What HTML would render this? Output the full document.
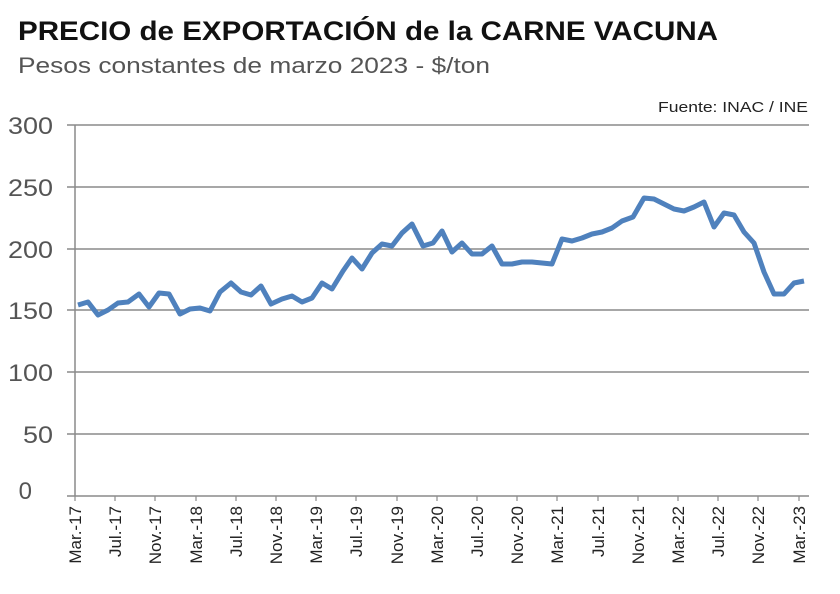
<!DOCTYPE html>
<html><head><meta charset="utf-8"><style>
body{margin:0;background:#fff;width:840px;height:589px;overflow:hidden;font-family:"Liberation Sans",sans-serif}
</style></head><body>
<svg width="840" height="589" xmlns="http://www.w3.org/2000/svg">
<text x="18" y="40" font-size="27" font-weight="bold" fill="#111" textLength="700" lengthAdjust="spacingAndGlyphs">PRECIO de EXPORTACIÓN de la CARNE VACUNA</text>
<text x="18" y="73" font-size="22" fill="#555" textLength="472" lengthAdjust="spacingAndGlyphs">Pesos constantes de marzo 2023 - $/ton</text>
<text x="808" y="112" font-size="15" fill="#222" text-anchor="end" textLength="150" lengthAdjust="spacingAndGlyphs">Fuente: INAC / INE</text>
<g stroke="#8a8a8a" stroke-width="1.5">
<line x1="67" y1="125" x2="809" y2="125"/>
<line x1="67" y1="187" x2="809" y2="187"/>
<line x1="67" y1="249" x2="809" y2="249"/>
<line x1="67" y1="310" x2="809" y2="310"/>
<line x1="67" y1="372" x2="809" y2="372"/>
<line x1="67" y1="434" x2="809" y2="434"/>
<line x1="67" y1="496" x2="809" y2="496"/>
<line x1="75" y1="125" x2="75" y2="496"/>
</g>
<g stroke="#8a8a8a" stroke-width="1.2">
<line x1="75" y1="496" x2="75" y2="501"/><line x1="115" y1="496" x2="115" y2="501"/><line x1="155" y1="496" x2="155" y2="501"/><line x1="196" y1="496" x2="196" y2="501"/><line x1="236" y1="496" x2="236" y2="501"/><line x1="276" y1="496" x2="276" y2="501"/><line x1="316" y1="496" x2="316" y2="501"/><line x1="356" y1="496" x2="356" y2="501"/><line x1="397" y1="496" x2="397" y2="501"/><line x1="437" y1="496" x2="437" y2="501"/><line x1="477" y1="496" x2="477" y2="501"/><line x1="517" y1="496" x2="517" y2="501"/><line x1="557" y1="496" x2="557" y2="501"/><line x1="598" y1="496" x2="598" y2="501"/><line x1="638" y1="496" x2="638" y2="501"/><line x1="678" y1="496" x2="678" y2="501"/><line x1="718" y1="496" x2="718" y2="501"/><line x1="758" y1="496" x2="758" y2="501"/><line x1="799" y1="496" x2="799" y2="501"/>
</g>
<g font-size="24" fill="#555" text-anchor="end">
<text x="53" y="134" textLength="45" lengthAdjust="spacingAndGlyphs">300</text><text x="53" y="196" textLength="45" lengthAdjust="spacingAndGlyphs">250</text><text x="53" y="258" textLength="45" lengthAdjust="spacingAndGlyphs">200</text><text x="53" y="319" textLength="45" lengthAdjust="spacingAndGlyphs">150</text><text x="53" y="381" textLength="45" lengthAdjust="spacingAndGlyphs">100</text><text x="53" y="443" textLength="30" lengthAdjust="spacingAndGlyphs">50</text><text x="32" y="499">0</text>
</g>
<g font-size="17" fill="#222" text-anchor="end">
<text transform="translate(81,506) rotate(-90)">Mar.-17</text>
<text transform="translate(121,506) rotate(-90)">Jul.-17</text>
<text transform="translate(161,506) rotate(-90)">Nov.-17</text>
<text transform="translate(202,506) rotate(-90)">Mar.-18</text>
<text transform="translate(242,506) rotate(-90)">Jul.-18</text>
<text transform="translate(282,506) rotate(-90)">Nov.-18</text>
<text transform="translate(322,506) rotate(-90)">Mar.-19</text>
<text transform="translate(362,506) rotate(-90)">Jul.-19</text>
<text transform="translate(403,506) rotate(-90)">Nov.-19</text>
<text transform="translate(443,506) rotate(-90)">Mar.-20</text>
<text transform="translate(483,506) rotate(-90)">Jul.-20</text>
<text transform="translate(523,506) rotate(-90)">Nov.-20</text>
<text transform="translate(563,506) rotate(-90)">Mar.-21</text>
<text transform="translate(604,506) rotate(-90)">Jul.-21</text>
<text transform="translate(644,506) rotate(-90)">Nov.-21</text>
<text transform="translate(684,506) rotate(-90)">Mar.-22</text>
<text transform="translate(724,506) rotate(-90)">Jul.-22</text>
<text transform="translate(764,506) rotate(-90)">Nov.-22</text>
<text transform="translate(805,506) rotate(-90)">Mar.-23</text>
</g>
<polyline fill="none" stroke="#4f81bd" stroke-width="5" stroke-linejoin="round" points="78,305 88,302 98,315 108,310 118,303 128,302 139,294 149,307 159,293 169,294 180,314 190,309 200,308 210,311 220,292 231,283 241,292 251,295 261,286 271,304 282,299 292,296 302,302 312,298 322,283 332,289 343,271 352,258 362,269 372,253 382,244 392,246 402,233 412,224 423,246 433,243 442,231 452,252 462,243 472,254 482,254 492,246 502,264 512,264 522,262 532,262 542,263 552,264 562,239 572,241 582,238 592,234 602,232 612,228 622,221 633,217 644,198 654,199 664,204 674,209 684,211 694,207 704,202 714,227 724,213 734,215 744,232 754,243 764,272 774,294 784,294 794,283 804,281"/>
</svg>
</body></html>
